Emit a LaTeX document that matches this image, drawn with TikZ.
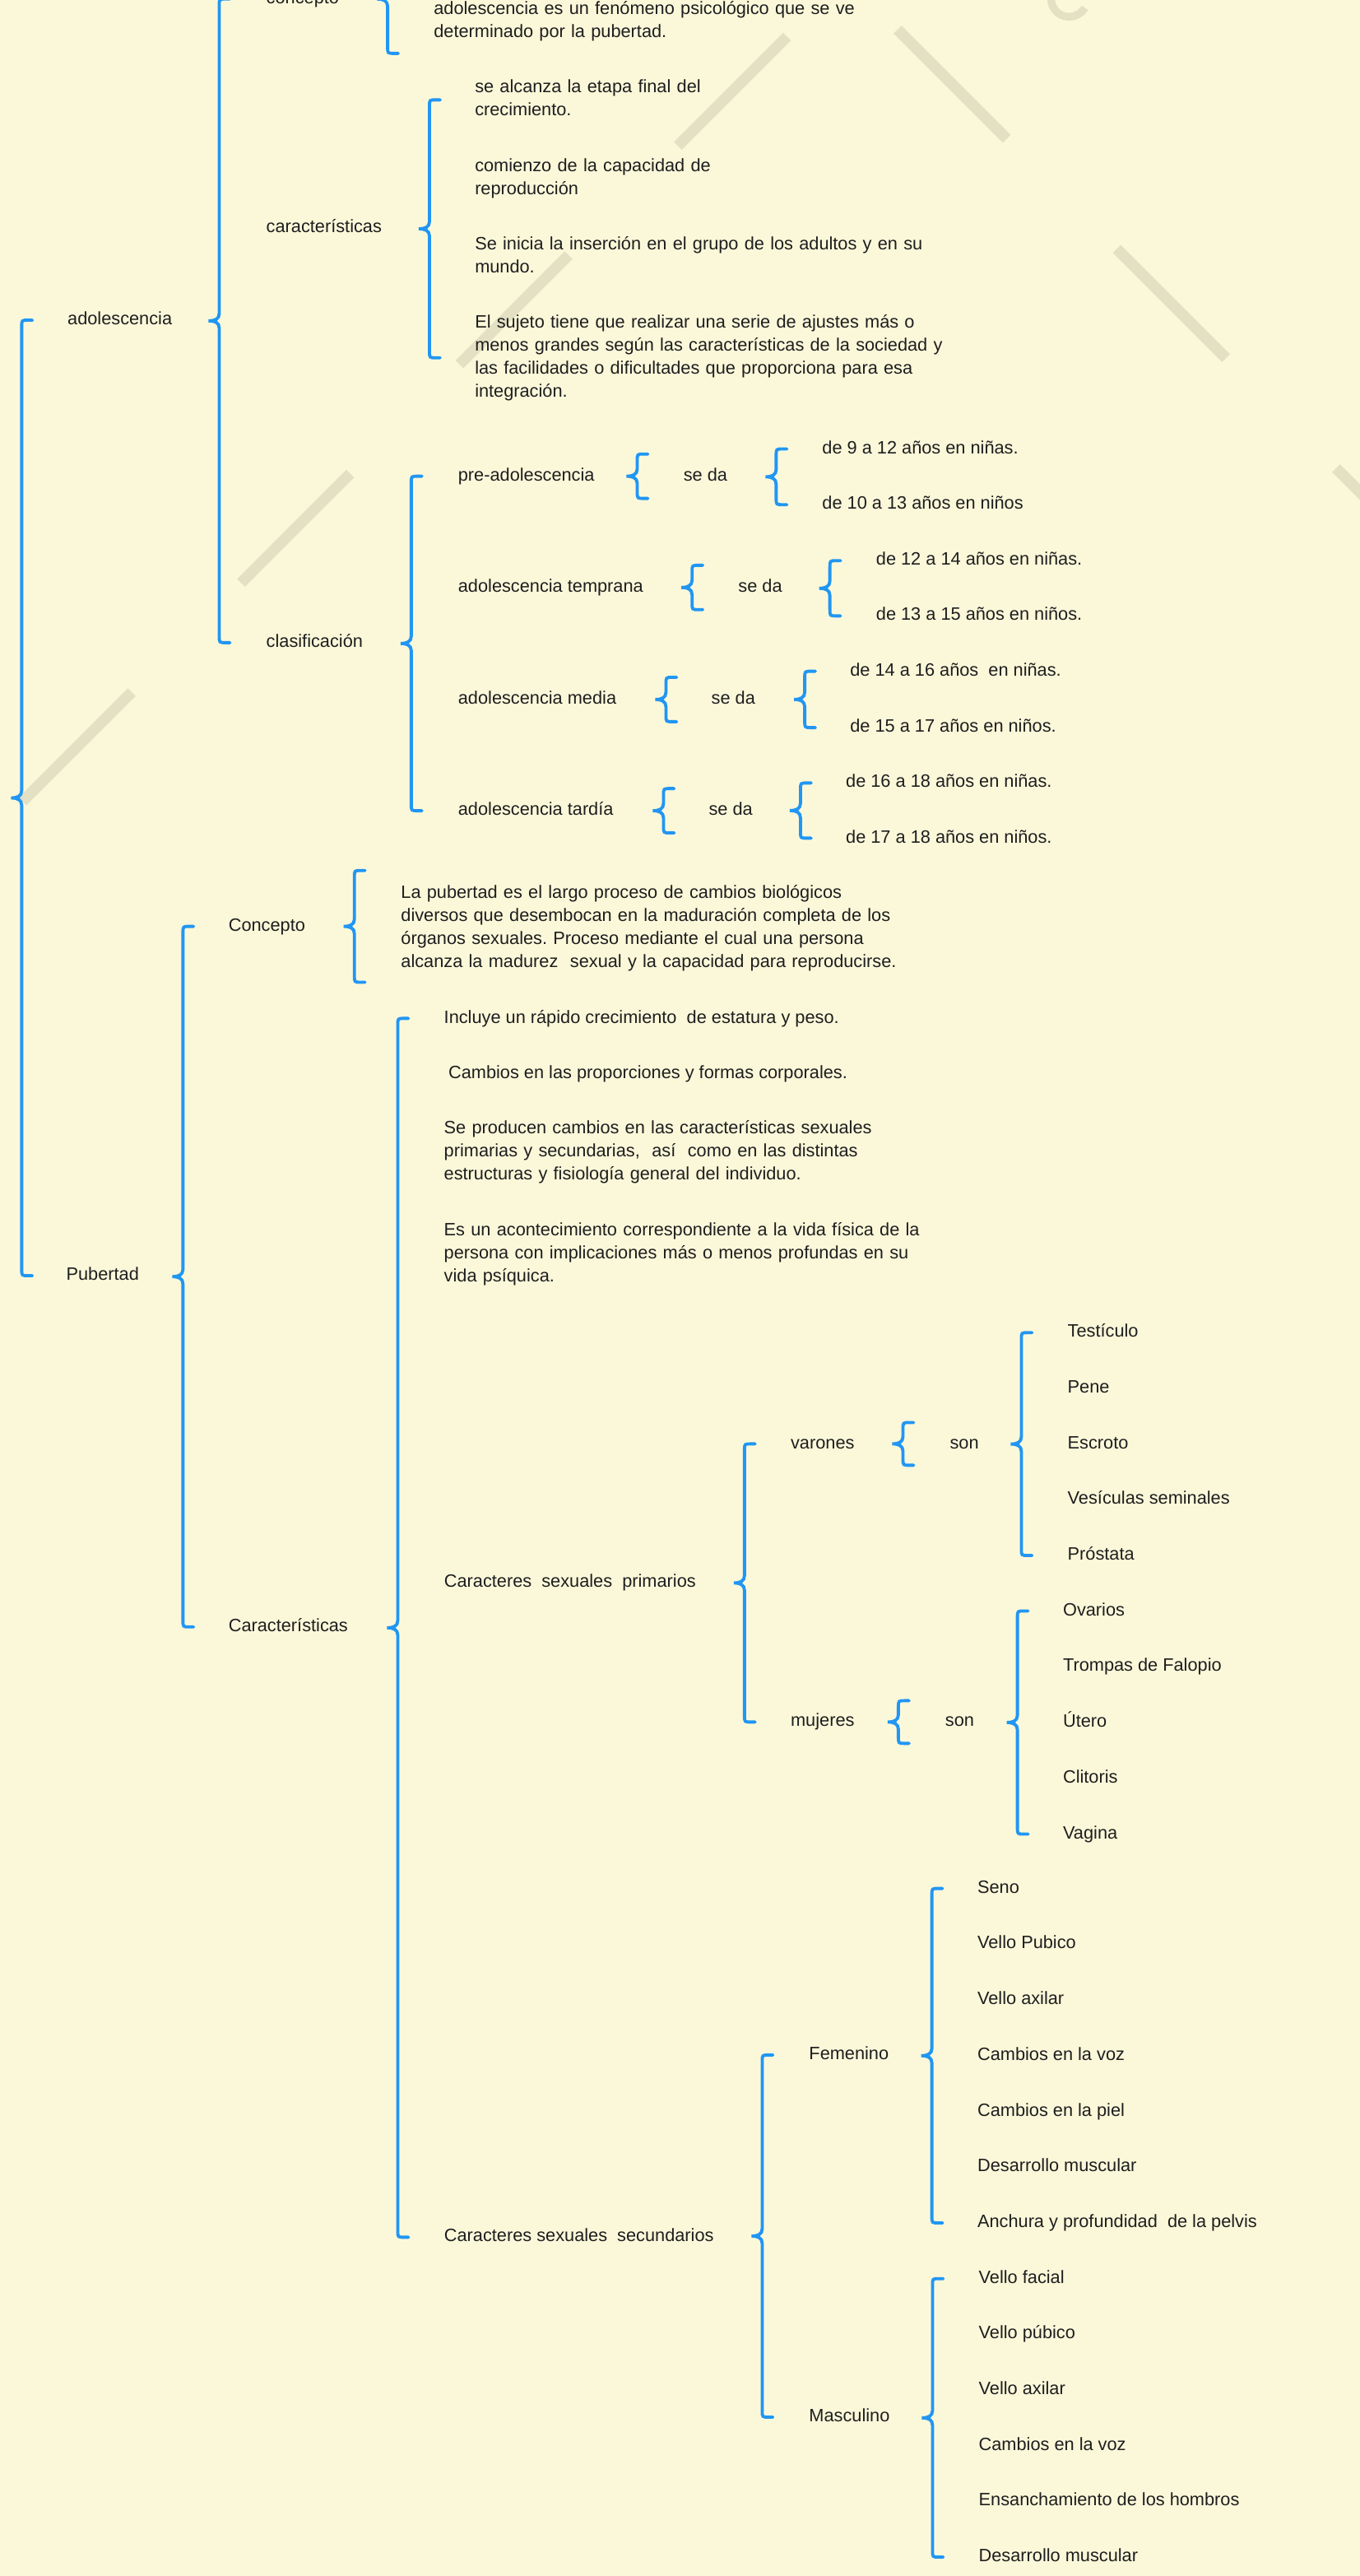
\documentclass[tikz,border=0pt]{standalone}
\usepackage{fontspec}
\setmainfont{Liberation Sans}
\usepackage{xcolor}
\usetikzlibrary{calc}
\frenchspacing

\definecolor{fondo}{RGB}{251,248,218}
\definecolor{azul}{RGB}{33,150,243}
\definecolor{marca}{RGB}{227,224,196}
\definecolor{tinta}{RGB}{30,30,30}

\begin{document}
\begin{tikzpicture}[x=0.04cm, y=-0.04cm,
    texto/.style={anchor=west, inner sep=0pt, text=tinta, yshift=-1pt,
      font=\fontsize{12.4}{15.94}\selectfont,
      execute at begin node=\strut, execute at end node=\strut},
    parrafo/.style={texto, text width=13cm, align=left},
    filigrana/.style={draw=marca, line width=0.27cm},
    llave/.style={draw=azul, line width=2.2pt, line cap=round,
      to path={let \p1=(\tikztostart), \p2=(\tikztotarget),
        \p3=($(\p1)!.5!(\p2)$) in
        ({\x1+7.4pt},\y1) -- ({\x1+4.5pt},\y1)
        .. controls (\x1,\y1) .. (\x1,{\y1-4.5pt})
        -- (\x1,{\y3+5.1pt})
        .. controls (\x1,{\y3+1.2pt}) and ({\x1-3pt},\y3) .. ({\x1-7.4pt},\y3)
        .. controls ({\x1-3pt},\y3) and (\x1,{\y3-1.2pt}) .. (\x1,{\y3-5.1pt})
        -- (\x1,{\y2+4.5pt})
        .. controls (\x1,\y2) .. ({\x1+4.5pt},\y2) -- ({\x1+7.4pt},\y2)}}]

    % Fondo y recorte
    \useasboundingbox (0,0) rectangle (828,1568);
    \fill[fondo] (0,0) rectangle (828,1568);
    \clip (0,0) rectangle (828,1568);

    % Filigrana diagonal
    \foreach \a in {13.7,146.7,279.7,412.7}
        \draw[filigrana] ({\a},{501.5-\a}) -- ({\a+66.5},{435-\a});
    \foreach \a in {546.5,680,813.5}
        \draw[filigrana] ({\a},{\a-528.5}) -- ({\a+66.5},{\a-462});
    \draw[filigrana, line width=0.19cm] (651,-0.8) ++(30:11)
        arc[start angle=30, end angle=210, radius=11];

    % Ramas principales
    \node[texto] (adol) at (41,194) {adolescencia};
    \node[texto] (pub) at (40.2,775.6) {Pubertad};
    \draw[llave] (13.2,0 |- adol.west) to (13.2,0 |- pub.west);

    % Adolescencia
    \node[texto] (adolconc) at (162,-1.5) {concepto};
    \node[texto] (caract) at (162,138) {características};
    \node[texto] (clasif) at (162,390.3) {clasificación};
    \draw[llave] (133.5,0 |- adolconc.west) to (133.5,0 |- clasif.west);

    % Concepto (cortado arriba)
    \node[parrafo] (adolconctxt) at (264,12)
        {adolescencia es un fenómeno psicológico que se ve\\determinado por la pubertad.};
    \draw[llave] ($(236,0 |- adolconc.west)+(0,-33.1)$) to ($(236,0 |- adolconc.west)+(0,33.1)$);

    % Caracteristicas de la adolescencia
    \node[parrafo] (car1) at (289,59.9) {se alcanza la etapa final del\\crecimiento.};
    \node[parrafo] (car2) at (289,107.6) {comienzo de la capacidad de\\reproducción};
    \node[parrafo] (car3) at (289,155.3)
        {Se inicia la inserción en el grupo de los adultos y en su\\mundo.};
    \node[parrafo] (car4) at (289,216.9)
        {El sujeto tiene que realizar una serie de ajustes más o\\menos grandes según las características de la sociedad y\\las facilidades o dificultades que proporciona para esa\\integración.};
    \draw[llave] (261.5,0 |- car1.west) to (261.5,0 |- car4.west);

    % Clasificacion
    \node[texto] (pre) at (278.8,289) {pre-adolescencia};
    \node[texto] (temp) at (278.8,356.7) {adolescencia temprana};
    \node[texto] (med) at (278.8,424.9) {adolescencia media};
    \node[texto] (tard) at (278.8,492.6) {adolescencia tardía};
    \draw[llave] (250.4,0 |- pre.west) to (250.4,0 |- tard.west);

    % pre-adolescencia
    \node[texto] (seda1) at (416,289) {se da};
    \draw[llave] ($(388,0 |- seda1.west)+(0,-13.5)$) to ($(388,0 |- seda1.west)+(0,13.5)$);
    \node[texto] (edad1a) at (500.5,272.4) {de 9 a 12 años en niñas.};
    \node[texto] (edad1b) at (500.5,306.3) {de 10 a 13 años en niños};
    \draw[llave] (472.6,0 |- edad1a.west) to (472.6,0 |- edad1b.west);

    % adolescencia temprana
    \node[texto] (seda2) at (449.4,356.7) {se da};
    \draw[llave] ($(421.4,0 |- seda2.west)+(0,-13.5)$) to ($(421.4,0 |- seda2.west)+(0,13.5)$);
    \node[texto] (edad2a) at (533.3,340.4) {de 12 a 14 años en niñas.};
    \node[texto] (edad2b) at (533.3,374) {de 13 a 15 años en niños.};
    \draw[llave] (505.3,0 |- edad2a.west) to (505.3,0 |- edad2b.west);

    % adolescencia media
    \node[texto] (seda3) at (433,424.9) {se da};
    \draw[llave] ($(405.5,0 |- seda3.west)+(0,-13.5)$) to ($(405.5,0 |- seda3.west)+(0,13.5)$);
    \node[texto] (edad3a) at (517.5,407.7) {de 14 a 16 años~ en niñas.};
    \node[texto] (edad3b) at (517.5,442) {de 15 a 17 años en niños.};
    \draw[llave] (490,0 |- edad3a.west) to (490,0 |- edad3b.west);

    % adolescencia tardia
    \node[texto] (seda4) at (431.4,492.6) {se da};
    \draw[llave] ($(404,0 |- seda4.west)+(0,-13.5)$) to ($(404,0 |- seda4.west)+(0,13.5)$);
    \node[texto] (edad4a) at (514.9,475.7) {de 16 a 18 años en niñas.};
    \node[texto] (edad4b) at (514.9,509.3) {de 17 a 18 años en niños.};
    \draw[llave] (487.4,0 |- edad4a.west) to (487.4,0 |- edad4b.west);

    % Pubertad
    \node[texto] (pconc) at (139,563) {Concepto};
    \node[texto] (pcar) at (139,989.4) {Características};
    \draw[llave] (111.4,0 |- pconc.west) to (111.4,0 |- pcar.west);

    % Concepto de pubertad
    \node[parrafo] (pconctxt) at (244,564.2)
        {La pubertad es el largo proceso de cambios biológicos\\diversos que desembocan en la maduración completa de los\\órganos sexuales. Proceso mediante el cual una persona\\alcanza la madurez~ sexual y la capacidad para reproducirse.};
    \draw[llave] ($(215.8,0 |- pconc.west)+(0,-34)$) to ($(215.8,0 |- pconc.west)+(0,34)$);

    % Caracteristicas de la pubertad
    \node[texto] (pc1) at (270.2,619) {Incluye un rápido crecimiento~ de estatura y peso.};
    \node[texto] (pc2) at (272.9,652.7) {Cambios en las proporciones y formas corporales.};
    \node[parrafo] (pc3) at (270.2,700.5)
        {Se producen cambios en las características sexuales\\primarias y secundarias,~ así~ como en las distintas\\estructuras y fisiología general del individuo.};
    \node[parrafo] (pc4) at (270.2,762.3)
        {Es un acontecimiento correspondiente a la vida física de la\\persona con implicaciones más o menos profundas en su\\vida psíquica.};
    \node[texto] (prim) at (270.3,962.5) {Caracteres~ sexuales~ primarios};
    \node[texto] (sec) at (270.3,1360.9) {Caracteres sexuales~ secundarios};
    \draw[llave] (242.2,0 |- pc1.west) to (242.2,0 |- sec.west);

    % Caracteres primarios
    \node[texto] (var) at (481.3,878) {varones};
    \node[texto] (muj) at (481.3,1047.3) {mujeres};
    \draw[llave] (453.3,0 |- var.west) to (453.3,0 |- muj.west);
    \node[texto] (sonv) at (578.2,878) {son};
    \draw[llave] ($(549.8,0 |- sonv.west)+(0,-13)$) to ($(549.8,0 |- sonv.west)+(0,13)$);
    \node[texto] (sonm) at (575.4,1047.3) {son};
    \draw[llave] ($(547,0 |- sonm.west)+(0,-13)$) to ($(547,0 |- sonm.west)+(0,13)$);

    % Organos
    \foreach \nombre [count=\i from 0] in {Testículo, Pene, Escroto, Vesículas seminales, Próstata}
        \node[texto] (orgv\i) at ({649.9},{810.3+33.9*\i}) {\nombre};
    \draw[llave] (621.9,0 |- orgv0.west) to (621.9,0 |- orgv4.west);
    \foreach \nombre [count=\i from 0] in {Ovarios, Trompas de Falopio, Útero, Clitoris, Vagina}
        \node[texto] (orgm\i) at ({647.1},{979.7+33.95*\i}) {\nombre};
    \draw[llave] (619.5,0 |- orgm0.west) to (619.5,0 |- orgm4.west);

    % Caracteres secundarios
    \node[texto] (fem) at (492.5,1250) {Femenino};
    \node[texto] (masc) at (492.5,1470.4) {Masculino};
    \draw[llave] (464.1,0 |- fem.west) to (464.1,0 |- masc.west);
    \foreach \nombre [count=\i from 0] in {Seno, Vello Pubico, Vello axilar, Cambios en la voz,
            Cambios en la piel, Desarrollo muscular, Anchura y profundidad~ de la pelvis}
        \node[texto] (fem\i) at ({595},{1148.6+33.93*\i}) {\nombre};
    \draw[llave] (567.4,0 |- fem0.west) to (567.4,0 |- fem6.west);
    \foreach \nombre [count=\i from 0] in {Vello facial, Vello púbico, Vello axilar, Cambios en la voz,
            Ensanchamiento de los hombros, Desarrollo muscular}
        \node[texto] (masc\i) at ({595.8},{1386.1+33.9*\i}) {\nombre};
    \draw[llave] (567.8,0 |- masc0.west) to (567.8,0 |- masc5.west);

\end{tikzpicture}
\end{document}
